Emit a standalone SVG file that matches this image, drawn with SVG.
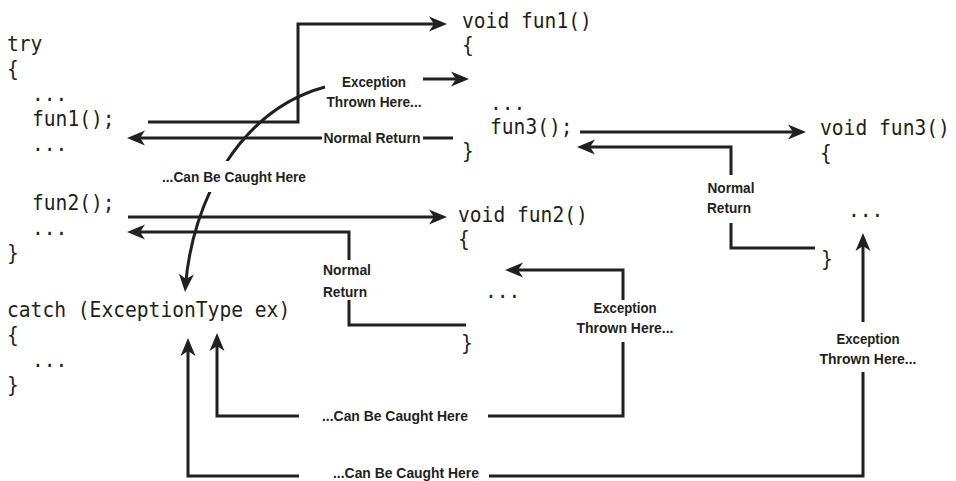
<svg xmlns="http://www.w3.org/2000/svg" width="956" height="481" viewBox="0 0 956 481">
<style>
.code{font-family:"DejaVu Sans Mono","Liberation Mono",monospace;font-size:21px;fill:#231f20}
.lbl{font-family:"Liberation Sans",Arial,sans-serif;font-size:15px;font-weight:bold;fill:#231f20;text-anchor:middle}
.ln{fill:none;stroke:#231f20;stroke-width:3}
</style>
<defs>
<marker id="ah" markerUnits="userSpaceOnUse" viewBox="-14 -8 20 16" refX="0" refY="0" markerWidth="20" markerHeight="16" orient="auto-start-reverse">
<path d="M5,0 L-13,-7.5 L-8,0 L-13,7.5 Z" fill="#231f20"/>
</marker>
</defs>
<rect width="956" height="481" fill="#fff"/>
<g id="connectors">
<path class="ln" d="M148,122 H298 V24 H442" marker-end="url(#ah)"/>
<path class="ln" d="M453,138 H423 M322,138 H132" marker-end="url(#ah)"/>
<path class="ln" d="M423,79 H464" marker-end="url(#ah)"/>
<path class="ln" d="M325,87 C240,110 192,200 185.4,287" marker-end="url(#ah)"/>
<path class="ln" d="M128,217 H442" marker-end="url(#ah)"/>
<path class="ln" d="M466,325 H349 V300 M349,260 V232 H132" marker-end="url(#ah)"/>
<path class="ln" d="M580,132 H801" marker-end="url(#ah)"/>
<path class="ln" d="M815,248 H731 V223 M731,175 V147 H582" marker-end="url(#ah)"/>
<path class="ln" d="M217,338 V416 H299 M488,416 H623 V342 M623,300 V270 H510" marker-start="url(#ah)" marker-end="url(#ah)"/>
<path class="ln" d="M188,343 V476 H299 M489,476 H863 V372 M863,322 V238" marker-start="url(#ah)" marker-end="url(#ah)"/>
</g>
<g id="labels">
<text class="lbl" x="372" y="143" textLength="97" lengthAdjust="spacingAndGlyphs">Normal Return</text>
<text class="lbl" x="374" y="87" textLength="64" lengthAdjust="spacingAndGlyphs">Exception</text>
<text class="lbl" x="374" y="107" textLength="95" lengthAdjust="spacingAndGlyphs">Thrown Here...</text>
<rect x="158" y="161" width="152" height="31" fill="#fff"/>
<text class="lbl" x="234" y="182" textLength="144" lengthAdjust="spacingAndGlyphs">...Can Be Caught Here</text>
<text class="lbl" x="347" y="275" textLength="48" lengthAdjust="spacingAndGlyphs">Normal</text>
<text class="lbl" x="345" y="297" textLength="44" lengthAdjust="spacingAndGlyphs">Return</text>
<text class="lbl" x="731" y="193" textLength="47" lengthAdjust="spacingAndGlyphs">Normal</text>
<text class="lbl" x="729" y="213" textLength="44" lengthAdjust="spacingAndGlyphs">Return</text>
<text class="lbl" x="625" y="313" textLength="63" lengthAdjust="spacingAndGlyphs">Exception</text>
<text class="lbl" x="625" y="333" textLength="97" lengthAdjust="spacingAndGlyphs">Thrown Here...</text>
<text class="lbl" x="395" y="421" textLength="146" lengthAdjust="spacingAndGlyphs">...Can Be Caught Here</text>
<text class="lbl" x="868" y="344" textLength="63" lengthAdjust="spacingAndGlyphs">Exception</text>
<text class="lbl" x="868" y="364" textLength="97" lengthAdjust="spacingAndGlyphs">Thrown Here...</text>
<text class="lbl" x="406" y="478" textLength="146" lengthAdjust="spacingAndGlyphs">...Can Be Caught Here</text>
</g>
<g id="main">
<text class="code" x="7" y="51" textLength="35.4" lengthAdjust="spacingAndGlyphs">try</text>
<text class="code" x="7" y="76" textLength="11.8" lengthAdjust="spacingAndGlyphs">{</text>
<text class="code" x="32" y="101" textLength="35.4" lengthAdjust="spacingAndGlyphs">...</text>
<text class="code" x="32" y="126" textLength="82.6" lengthAdjust="spacingAndGlyphs">fun1();</text>
<text class="code" x="32" y="151" textLength="35.4" lengthAdjust="spacingAndGlyphs">...</text>
<text class="code" x="32" y="210" textLength="82.6" lengthAdjust="spacingAndGlyphs">fun2();</text>
<text class="code" x="32" y="235" textLength="35.4" lengthAdjust="spacingAndGlyphs">...</text>
<text class="code" x="7" y="260" textLength="11.8" lengthAdjust="spacingAndGlyphs">}</text>
<text class="code" x="7" y="317" textLength="283.2" lengthAdjust="spacingAndGlyphs">catch (ExceptionType ex)</text>
<text class="code" x="7" y="342" textLength="11.8" lengthAdjust="spacingAndGlyphs">{</text>
<text class="code" x="32" y="367" textLength="35.4" lengthAdjust="spacingAndGlyphs">...</text>
<text class="code" x="7" y="392" textLength="11.8" lengthAdjust="spacingAndGlyphs">}</text>
</g>
<g id="fun1">
<text class="code" x="462" y="28" textLength="129.8" lengthAdjust="spacingAndGlyphs">void fun1()</text>
<text class="code" x="462" y="52" textLength="11.8" lengthAdjust="spacingAndGlyphs">{</text>
<text class="code" x="490" y="110" textLength="35.4" lengthAdjust="spacingAndGlyphs">...</text>
<text class="code" x="490" y="134" textLength="82.6" lengthAdjust="spacingAndGlyphs">fun3();</text>
<text class="code" x="462" y="158" textLength="11.8" lengthAdjust="spacingAndGlyphs">}</text>
</g>
<g id="fun2">
<text class="code" x="458" y="222" textLength="129.8" lengthAdjust="spacingAndGlyphs">void fun2()</text>
<text class="code" x="458" y="246" textLength="11.8" lengthAdjust="spacingAndGlyphs">{</text>
<text class="code" x="485" y="298" textLength="35.4" lengthAdjust="spacingAndGlyphs">...</text>
<text class="code" x="461" y="350" textLength="11.8" lengthAdjust="spacingAndGlyphs">}</text>
</g>
<g id="fun3">
<text class="code" transform="translate(820,135) scale(0.935,1)" x="0" y="0">void fun3()</text>
<text class="code" x="820" y="160" textLength="11.8" lengthAdjust="spacingAndGlyphs">{</text>
<text class="code" x="848" y="217" textLength="35.4" lengthAdjust="spacingAndGlyphs">...</text>
<text class="code" x="821" y="266" textLength="11.8" lengthAdjust="spacingAndGlyphs">}</text>
</g>
</svg>
